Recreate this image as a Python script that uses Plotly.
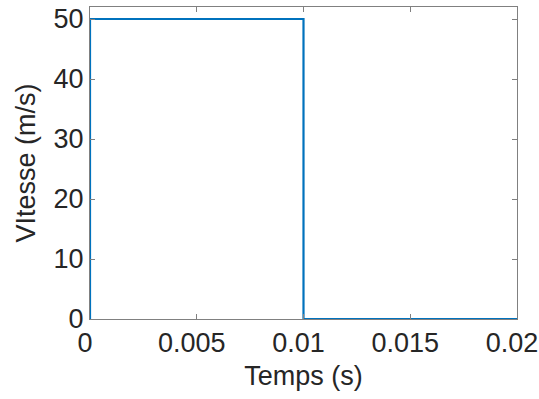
import plotly.graph_objects as go

time_s = [0, 0, 0.01, 0.01, 0.02]
speed_ms = [0, 50, 50, 0, 0]
x_ticks = [0, 0.005, 0.01, 0.015, 0.02]
x_tick_labels = ["0", "0.005", "0.01", "0.015", "0.02"]
y_ticks = [0, 10, 20, 30, 40, 50]

fig = go.Figure()
fig.add_trace(go.Scatter(x=time_s, y=speed_ms, mode="lines",
                         line=dict(color="#0072BD", width=2.2), showlegend=False))

font = dict(family="Liberation Sans, Arial, sans-serif", size=27, color="#262626")
axis_common = dict(showgrid=False, zeroline=False, showline=True, linecolor="#808080",
                   linewidth=1, mirror="ticks", ticks="inside", ticklen=5,
                   tickcolor="#808080", tickfont=font, automargin=False,
                   ticklabeloverflow="allow")
fig.update_xaxes(range=[0, 0.02], tickvals=x_ticks, ticktext=x_tick_labels,
                 ticklabelshift=-5,
                 title=dict(text="Temps (s)", font=font, standoff=8), **axis_common)
fig.update_yaxes(range=[0, 52], tickvals=y_ticks,
                 title=dict(text="VItesse (m/s)", font=font, standoff=10), **axis_common)
fig.update_layout(width=539, height=399, margin=dict(l=90, r=22, t=7, b=80),
                  plot_bgcolor="white", paper_bgcolor="white", font=font)
fig.write_html("out.html", config={"displayModeBar": False},
               post_script="document.body.style.margin='0';document.body.style.overflow='hidden';")
